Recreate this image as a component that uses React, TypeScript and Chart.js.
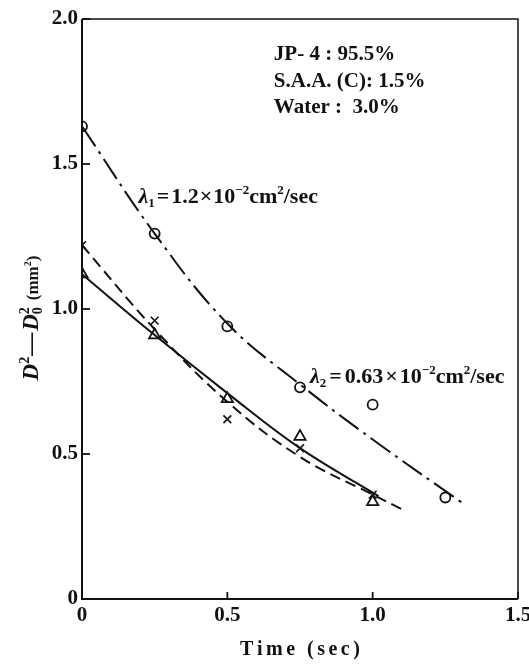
import React, { useEffect, useRef } from 'react';
import { Chart, registerables } from 'chart.js';

Chart.register(...registerables);

// ---- data ----
const circleTime = [0, 0.25, 0.5, 0.75, 1.0, 1.25];
const circleValue = [1.63, 1.26, 0.94, 0.73, 0.67, 0.35];
const triangleTime = [0, 0.25, 0.5, 0.75, 1.0];
const triangleValue = [1.12, 0.91, 0.69, 0.56, 0.335];
const crossTime = [0, 0.25, 0.5, 0.75, 1.0];
const crossValue = [1.22, 0.96, 0.62, 0.52, 0.36];

// fitted curves
const dashDotTime = [0, 0.25, 0.5, 0.75, 1.0, 1.31];
const dashDotValue = [1.63, 1.26, 0.95, 0.74, 0.55, 0.33];
const solidTime = [0, 0.25, 0.5, 0.75, 1.02];
const solidValue = [1.12, 0.91, 0.71, 0.52, 0.355];
const dashedTime = [0, 0.25, 0.5, 0.75, 1.0, 1.1];
const dashedValue = [1.22, 0.93, 0.68, 0.49, 0.36, 0.31];

const xTicks = [0, 0.5, 1.0, 1.5];
const xTickLabels = ['0', '0.5', '1.0', '1.5'];
const yTicks = [0, 0.5, 1.0, 1.5, 2.0];
const yTickLabels = ['0', '0.5', '1.0', '1.5', '2.0'];

const compositionLines = ['JP- 4 : 95.5%', 'S.A.A. (C): 1.5%', 'Water :  3.0%'];
const xTitle = 'Time (sec)';

const FONT = '"Liberation Serif", "Times New Roman", serif';

type Seg = { t: string; i?: boolean; b?: boolean; sup?: boolean; sub?: boolean; stackSup?: string; gap?: number; size?: number };

function fontOf(size: number, seg: Seg) {
  return `${seg.i ? 'italic ' : ''}${seg.b === false ? '' : 'bold '}${size}px ${FONT}`;
}

function drawRich(ctx: CanvasRenderingContext2D, segs: Seg[], x: number, y: number, base: number, draw = true) {
  let cx = x;
  ctx.textAlign = 'left';
  ctx.textBaseline = 'alphabetic';
  for (const s of segs) {
    const size = s.size ?? base;
    if (s.gap) cx += s.gap;
    if (s.sup || s.sub) {
      const sz = Math.round(size * 0.6);
      ctx.font = fontOf(sz, s);
      let w = ctx.measureText(s.t).width;
      if (draw && s.sup) ctx.fillText(s.t, cx, y - size * 0.4);
      if (draw && s.sub) ctx.fillText(s.t, cx, y + size * 0.18);
      if (s.stackSup) {
        if (draw) ctx.fillText(s.stackSup, cx, y - size * 0.4);
        w = Math.max(w, ctx.measureText(s.stackSup).width);
      }
      cx += w;
    } else {
      ctx.font = fontOf(size, s);
      if (draw) ctx.fillText(s.t, cx, y);
      cx += ctx.measureText(s.t).width;
    }
  }
  return cx - x;
}

const lambda1: Seg[] = [
  { t: 'λ', i: true }, { t: '1', sub: true }, { t: '=', gap: 2 }, { t: '1.2', gap: 2 }, { t: '×', gap: 1 }, { t: '10', gap: 1 },
  { t: '−2', sup: true }, { t: 'cm' }, { t: '2', sup: true }, { t: '/sec' },
];
const lambda2: Seg[] = [
  { t: 'λ', i: true }, { t: '2', sub: true }, { t: '=', gap: 3 }, { t: '0.63', gap: 3 }, { t: '×', gap: 2 }, { t: '10', gap: 2 },
  { t: '−2', sup: true }, { t: 'cm' }, { t: '2', sup: true }, { t: '/sec' },
];
const yTitle: Seg[] = [
  { t: 'D', i: true, size: 23 }, { t: '2', sup: true, size: 23 }, { t: '—', gap: 1, size: 23 }, { t: 'D', i: true, gap: 2, size: 23 },
  { t: '0', sub: true, stackSup: '2', size: 23 },
  { t: '(mm', gap: 7, size: 17 }, { t: '2', sup: true, size: 17 }, { t: ')', size: 17 },
];

// label anchor positions in data units (baselines)
const compositionAnchor = { x: 0.66, y: [1.859, 1.766, 1.676] };
const lambda1Anchor = { x: 0.194, y: 1.366 };
const lambda2Anchor = { x: 0.784, y: 0.745 };

const decorPlugin = {
  id: 'decor',
  afterDraw(chart: any) {
    const { ctx, chartArea: a, scales } = chart;
    const xs = scales.x;
    const ys = scales.y;
    ctx.save();
    ctx.strokeStyle = '#111';
    ctx.fillStyle = '#111';
    ctx.lineWidth = 1.5;
    ctx.beginPath();
    ctx.moveTo(a.left, a.top);
    ctx.lineTo(a.right, a.top);
    ctx.lineTo(a.right, a.bottom);
    ctx.stroke();
    ctx.lineWidth = 2;
    ctx.beginPath();
    ctx.moveTo(a.left, a.top);
    ctx.lineTo(a.left, a.bottom);
    ctx.lineTo(a.right, a.bottom);
    ctx.stroke();
    // inward tick marks
    ctx.lineWidth = 1.8;
    for (const v of yTicks) {
      const py = ys.getPixelForValue(v);
      ctx.beginPath();
      ctx.moveTo(a.left, py);
      ctx.lineTo(a.left + 8, py);
      ctx.stroke();
    }
    for (const v of xTicks) {
      const px = xs.getPixelForValue(v);
      ctx.beginPath();
      ctx.moveTo(px, a.bottom);
      ctx.lineTo(px, a.bottom - 7);
      ctx.stroke();
    }
    // composition text
    ctx.font = `bold 21px ${FONT}`;
    ctx.textAlign = 'left';
    ctx.textBaseline = 'alphabetic';
    compositionLines.forEach((line, k) => {
      ctx.fillText(line, xs.getPixelForValue(compositionAnchor.x), ys.getPixelForValue(compositionAnchor.y[k]));
    });
    // lambda labels
    drawRich(ctx, lambda1, xs.getPixelForValue(lambda1Anchor.x), ys.getPixelForValue(lambda1Anchor.y), 22);
    drawRich(ctx, lambda2, xs.getPixelForValue(lambda2Anchor.x), ys.getPixelForValue(lambda2Anchor.y), 22);
    // x title, letter-spaced
    ctx.font = `bold 20px ${FONT}`;
    const spacing = 3.5;
    const chars = xTitle.split('');
    const widths = chars.map((c) => ctx.measureText(c).width);
    const total = widths.reduce((s, w) => s + w, 0) + spacing * (chars.length - 1);
    let cx = (a.left + a.right) / 2 - total / 2;
    chars.forEach((c, k) => {
      ctx.fillText(c, cx, 655);
      cx += widths[k] + spacing;
    });
    // y title
    ctx.save();
    ctx.translate(38, 318);
    ctx.rotate(-Math.PI / 2);
    const w = drawRich(ctx, yTitle, 0, 0, 20, false);
    drawRich(ctx, yTitle, -w / 2, 0, 20);
    ctx.restore();
    ctx.restore();
  },
};

const pts = (xs: number[], ys: number[]) => xs.map((x, i) => ({ x, y: ys[i] }));

export default function App() {
  const ref = useRef<HTMLCanvasElement>(null);
  useEffect(() => {
    if (!ref.current) return;
    const lineBase = { showLine: true, pointRadius: 0, borderColor: '#111', borderWidth: 2, tension: 0.4, fill: false };
    const markBase = { showLine: false, borderColor: '#111', backgroundColor: '#fff', pointBorderWidth: 1.8 };
    const chart = new Chart(ref.current, {
      type: 'scatter',
      data: {
        datasets: [
          { ...lineBase, label: 'fit circle', data: pts(dashDotTime, dashDotValue), borderDash: [24, 6, 3, 6] },
          { ...lineBase, label: 'fit triangle', data: pts(solidTime, solidValue) },
          { ...lineBase, label: 'fit cross', data: pts(dashedTime, dashedValue), borderDash: [11, 6] },
          { ...markBase, label: 'circle', data: pts(circleTime, circleValue), pointStyle: 'circle', pointRadius: 5 },
          { ...markBase, label: 'triangle', data: pts(triangleTime, triangleValue), pointStyle: 'triangle', pointRadius: 6.5 },
          { ...markBase, label: 'cross', data: pts(crossTime, crossValue), pointStyle: 'crossRot', pointRadius: 5.5, pointBorderWidth: 1.6 },
        ],
      },
      options: {
        responsive: false,
        animation: false,
        devicePixelRatio: 1,
        layout: { padding: { top: 19, right: 11, left: 0, bottom: 0 } },
        plugins: { legend: { display: false }, tooltip: { enabled: false } },
        scales: {
          x: {
            type: 'linear',
            min: 0,
            max: 1.5,
            grid: { display: false, drawTicks: false },
            border: { display: false },
            afterBuildTicks: (s: any) => { s.ticks = xTicks.map((v) => ({ value: v })); },
            ticks: {
              autoSkip: false,
              maxRotation: 0,
              padding: 4,
              color: '#111',
              font: { family: FONT, size: 21, weight: 'bold' },
              callback: (v: any) => xTickLabels[xTicks.indexOf(Number(v))] ?? '',
            },
            afterFit: (s: any) => { s.height = 66; s.paddingLeft = 0; s.paddingRight = 0; },
          },
          y: {
            type: 'linear',
            min: 0,
            max: 2,
            grid: { display: false, drawTicks: false },
            border: { display: false },
            afterBuildTicks: (s: any) => { s.ticks = yTicks.map((v) => ({ value: v })); },
            ticks: {
              autoSkip: false,
              padding: 4,
              color: '#111',
              font: { family: FONT, size: 21, weight: 'bold' },
              callback: (v: any) => yTickLabels[yTicks.indexOf(Number(v))] ?? '',
            },
            afterFit: (s: any) => { s.width = 82; s.paddingTop = 0; s.paddingBottom = 0; },
          },
        },
      },
      plugins: [decorPlugin],
    });
    return () => chart.destroy();
  }, []);
  return (
    <div style={{ position: 'absolute', left: 0, top: 0, width: 529, height: 665, background: '#fff' }}>
      <canvas ref={ref} width={529} height={665} />
    </div>
  );
}
